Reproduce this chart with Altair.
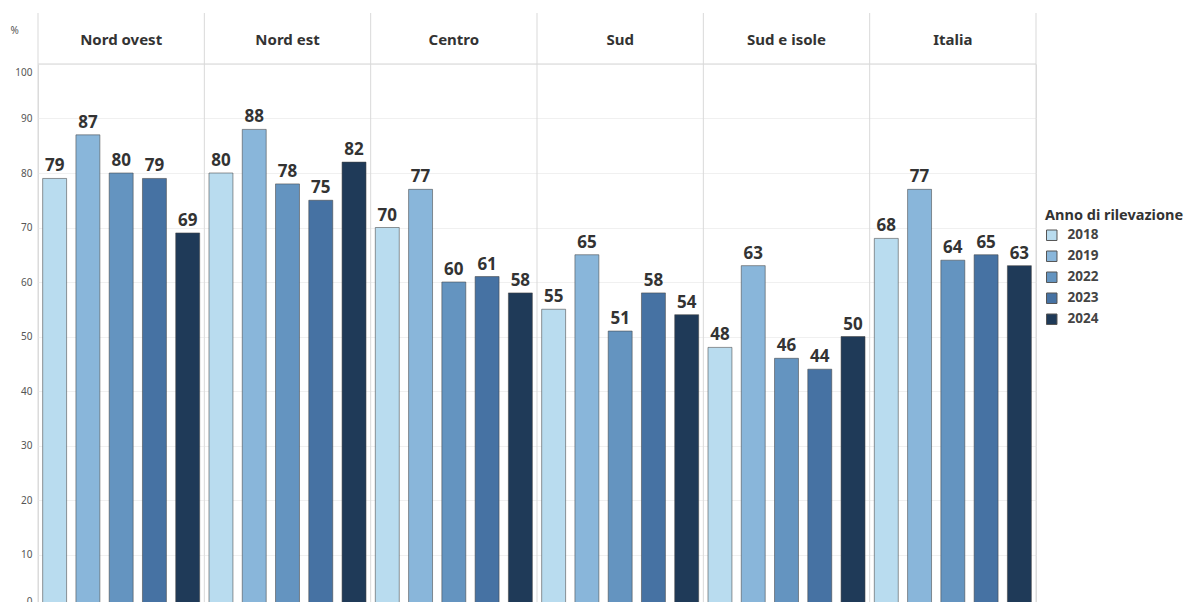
import altair as alt
import pandas as pd

regions = ["Nord ovest", "Nord est", "Centro", "Sud", "Sud e isole", "Italia"]
years = ["2018", "2019", "2022", "2023", "2024"]
v2018 = [79, 80, 70, 55, 48, 68]
v2019 = [87, 88, 77, 65, 63, 77]
v2022 = [80, 78, 60, 51, 46, 64]
v2023 = [79, 75, 61, 58, 44, 65]
v2024 = [69, 82, 58, 54, 50, 63]
colors = ["#b9dcef", "#89b6da", "#6494c0", "#4672a3", "#1f3a58"]

series = [v2018, v2019, v2022, v2023, v2024]
rows = []
for i, r in enumerate(regions):
    for y, vals in zip(years, series):
        rows.append({"regione": r, "anno": y, "valore": vals[i]})
df = pd.DataFrame(rows)
hdr = pd.DataFrame({"regione": regions})
top = pd.DataFrame({"v": [100]})

FONT = "Noto Sans"
W, H = 998, 545

xscale = alt.Scale(domain=regions, paddingInner=0, paddingOuter=0)
yscale = alt.Scale(domain=[0, 100], nice=False)

def xenc(**kw):
    return alt.X("regione:N", sort=regions, scale=xscale, axis=None, **kw)

xo = alt.XOffset("anno:N", sort=years, scale=alt.Scale(paddingInner=0.28, paddingOuter=0.14))

yaxis = alt.Axis(
    values=list(range(0, 101, 10)), grid=True, gridColor="#f0f0f0", gridWidth=1,
    domain=False, ticks=False, labelFontSize=10, labelColor="#555", labelFont=FONT,
    labelPadding=6, labelFlush=True, labelFlushOffset=-3, title="%", titleAngle=0,
    titleX=-28, titleY=-34, titleFontSize=10, titleFontWeight="normal", titleColor="#555",
    titleFont=FONT, titleAlign="left", titleBaseline="middle",
)

def yenc(field):
    return alt.Y(field, scale=yscale, axis=yaxis, title="%")

topline = alt.Chart(top).mark_rule(color="#e3e3e3", strokeWidth=1.5).encode(y=yenc("v:Q"))

bars = alt.Chart(df).mark_bar(stroke="#444", strokeOpacity=0.55, strokeWidth=1).encode(
    x=xenc(),
    xOffset=xo,
    y=yenc("valore:Q"),
    color=alt.Color(
        "anno:N", sort=years, scale=alt.Scale(domain=years, range=colors),
        legend=alt.Legend(
            title="Anno di rilevazione", orient="none", legendX=1007, legendY=145,
            titleFont=FONT, titleFontSize=14.5, titleFontWeight="bold", titleColor="#333",
            titlePadding=5, labelFont=FONT, labelFontSize=13.5, labelFontWeight="bold",
            labelColor="#444", symbolType="square", symbolSize=110,
            symbolStrokeColor="#555", symbolStrokeWidth=1, symbolOpacity=1,
            rowPadding=6, labelOffset=9,
        ),
    ),
)

labels = alt.Chart(df).mark_text(
    font=FONT, fontSize=17, fontWeight="bold", color="#333", baseline="alphabetic", dy=-7
).encode(
    x=xenc(), xOffset=xo,
    y=yenc("valore:Q"),
    text=alt.Text("valore:Q", format="d"),
)

seps = alt.Chart(hdr).mark_rule(color="#d9d9d9", strokeWidth=1).encode(
    x=xenc(bandPosition=0), y=alt.value(-51), y2=alt.value(H)
)
sep_end = alt.Chart(hdr).transform_filter(alt.datum.regione == "Italia").mark_rule(
    color="#d9d9d9", strokeWidth=1
).encode(x=xenc(bandPosition=1), y=alt.value(-51), y2=alt.value(H))

heads = alt.Chart(hdr).mark_text(
    font=FONT, fontSize=15, fontWeight="bold", color="#333", baseline="middle"
).encode(x=xenc(), y=alt.value(-24), text="regione:N")

chart = alt.layer(topline, seps, sep_end, bars, labels, heads).properties(
    width=W, height=H,
    autosize=alt.AutoSizeParams(type="none"),
    padding={"left": 30, "top": 56, "right": 156, "bottom": 0},
).configure_view(stroke=None).configure(background="white")

chart.save("out.html", embed_options={"renderer": "svg", "actions": False})
